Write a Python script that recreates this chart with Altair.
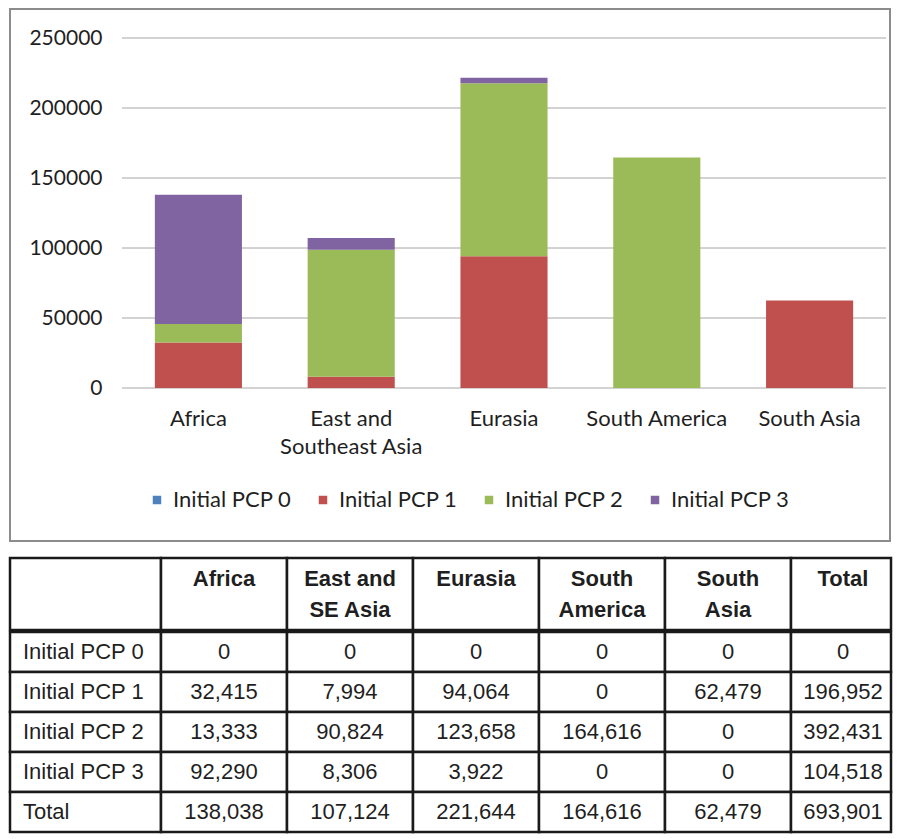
import altair as alt
import pandas as pd

# ---------------- data ----------------
regions = ["Africa", "East and SE Asia", "Eurasia", "South America", "South Asia"]
chart_labels = ["Africa", "East and\nSoutheast Asia", "Eurasia", "South America", "South Asia"]
header_labels = ["Africa", "East and\nSE Asia", "Eurasia", "South\nAmerica", "South\nAsia"]
total_label = "Total"
series = ["Initial PCP 0", "Initial PCP 1", "Initial PCP 2", "Initial PCP 3"]
pcp0 = [0, 0, 0, 0, 0]
pcp1 = [32415, 7994, 94064, 0, 62479]
pcp2 = [13333, 90824, 123658, 164616, 0]
pcp3 = [92290, 8306, 3922, 0, 0]
row_totals = [0, 196952, 392431, 104518]
col_totals = [138038, 107124, 221644, 164616, 62479]
grand_total = 693901
y_ticks = [0, 50000, 100000, 150000, 200000, 250000]
colors = ["#4F81BD", "#C0504D", "#9BBB59", "#8064A2"]

series_values = [pcp0, pcp1, pcp2, pcp3]

FONT = "Lato"
TFONT = "Liberation Sans"
TXT = "#1f1f1f"
LINE = "#1a1a1a"

# frame (view) and plot region inside it
FW, FH = 880, 532
PL, PR, PT, PB = 112, 876, 29, 379

# ---------------- bar chart ----------------
bar_rows = []
for i, (s, vals) in enumerate(zip(series, series_values)):
    for lab, v in zip(chart_labels, vals):
        bar_rows.append({"region": lab, "series": s, "idx": i, "value": v})
bar_df = pd.DataFrame(bar_rows)

x_scale = alt.Scale(domain=chart_labels, range=[PL, PR], paddingInner=0.43, paddingOuter=0.215)
y_scale = alt.Scale(domain=[0, 250000], range=[PB, PT])
y_axis = alt.Axis(values=y_ticks, format="d", ticks=False, domain=False, grid=False,
                  labelPadding=20, offset=-PL, labelFontSize=21, labelFont=FONT,
                  labelColor=TXT)

grid = alt.Chart(pd.DataFrame({"value": y_ticks})).mark_rule(
    color="#a6a6a6", strokeWidth=1
).encode(
    y=alt.Y("value:Q", scale=y_scale, axis=y_axis, title=None),
    x=alt.value(PL), x2=alt.value(PR),
)

bars = alt.Chart(bar_df).mark_bar().encode(
    x=alt.X("region:N", sort=chart_labels, title=None, scale=x_scale,
            axis=alt.Axis(labelExpr="split(datum.label, '\\n')", labelAngle=0,
                          ticks=False, domain=False, grid=False, labelPadding=20,
                          offset=PB - FH, labelFontSize=22, labelFont=FONT,
                          labelColor=TXT, labelLineHeight=28)),
    y=alt.Y("value:Q", stack="zero", title=None, scale=y_scale, axis=y_axis),
    color=alt.Color("series:N", scale=alt.Scale(domain=series, range=colors),
                    legend=alt.Legend(orient="none", legendX=136, legendY=480,
                                      direction="horizontal", title=None,
                                      symbolType="square", symbolSize=72,
                                      symbolStrokeWidth=0, labelFontSize=22,
                                      labelFont=FONT, labelColor=TXT,
                                      columnPadding=20, labelOffset=5)),
    order=alt.Order("idx:Q", sort="ascending"),
)

top = alt.layer(grid, bars).properties(
    width=FW, height=FH,
    view=alt.ViewBackground(stroke="#8c8c8c", strokeWidth=2, fill="white"),
)

# ---------------- table ----------------
row_labels = series + [total_label]
body_rows, total_rows = [], []
for i, s in enumerate(series):
    for h, v in zip(header_labels, series_values[i]):
        body_rows.append({"row": s, "col": h, "value": v})
    total_rows.append({"row": s, "col": total_label, "value": row_totals[i]})
for h, v in zip(header_labels, col_totals):
    body_rows.append({"row": total_label, "col": h, "value": v})
total_rows.append({"row": total_label, "col": total_label, "value": grand_total})
body_df = pd.DataFrame(body_rows)
total_df = pd.DataFrame(total_rows)
hdr_df = pd.DataFrame({"col": header_labels})
hdr_total_df = pd.DataFrame({"col": [total_label]})
rowlab_df = pd.DataFrame({"row": row_labels, "k": ["c"] * len(row_labels)})

band0 = alt.Scale(paddingInner=0, paddingOuter=0)
CELL = dict(fill="white", stroke=LINE, strokeWidth=2.5)
HDR_TXT = dict(font=TFONT, fontSize=22, fontWeight="bold", color=TXT,
               baseline="top", lineBreak="\n", lineHeight=31)
BODY_TXT = dict(font=TFONT, fontSize=22, color=TXT, baseline="middle")
HDR_H, ROW_H = 72, 200
C0_W, REG_W, TOT_W = 151, 630, 100
TOT_DX = 2

corner = alt.Chart(alt.Data(values=[{"k": "c"}])).mark_rect(**CELL).encode(
    x=alt.X("k:N", axis=None, scale=band0)
).properties(width=C0_W, height=HDR_H)

hdr_x = alt.X("col:N", sort=header_labels, axis=None, scale=band0)
hdr = alt.layer(
    alt.Chart(hdr_df).mark_rect(**CELL).encode(x=hdr_x),
    alt.Chart(hdr_df).mark_text(**HDR_TXT).encode(x=hdr_x, y=alt.value(11), text="col:N"),
).properties(width=REG_W, height=HDR_H)

tot_x = alt.X("col:N", axis=None, scale=band0)
hdr_tot = alt.layer(
    alt.Chart(hdr_total_df).mark_rect(**CELL).encode(x=tot_x),
    alt.Chart(hdr_total_df).mark_text(dx=TOT_DX, **HDR_TXT).encode(
        x=tot_x, y=alt.value(11), text="col:N"),
).properties(width=TOT_W, height=HDR_H)

row_y = alt.Y("row:N", sort=row_labels, axis=None, scale=band0)
rowlab = alt.layer(
    alt.Chart(rowlab_df).mark_rect(**CELL).encode(
        x=alt.X("k:N", axis=None, scale=band0), y=row_y),
    alt.Chart(rowlab_df).mark_text(font=TFONT, fontSize=22, color=TXT, align="left",
                                   baseline="middle").encode(
        x=alt.value(13), y=row_y, text="row:N"),
).properties(width=C0_W, height=ROW_H)

body = alt.layer(
    alt.Chart(body_df).mark_rect(**CELL).encode(x=hdr_x, y=row_y),
    alt.Chart(body_df).mark_text(**BODY_TXT).encode(
        x=hdr_x, y=row_y, text=alt.Text("value:Q", format=",d")),
).properties(width=REG_W, height=ROW_H)

body_tot = alt.layer(
    alt.Chart(total_df).mark_rect(**CELL).encode(x=tot_x, y=row_y),
    alt.Chart(total_df).mark_text(dx=TOT_DX, **BODY_TXT).encode(
        x=tot_x, y=row_y, text=alt.Text("value:Q", format=",d")),
).properties(width=TOT_W, height=ROW_H)

table = alt.vconcat(
    alt.hconcat(corner, hdr, hdr_tot, spacing=0, bounds="flush"),
    alt.hconcat(rowlab, body, body_tot, spacing=0, bounds="flush"),
    spacing=-2.5,
)

chart = alt.vconcat(top, table, spacing=14).properties(
    padding=0, background="white"
).configure_view(strokeWidth=0)

chart.save("out.html", embed_options={"renderer": "svg", "actions": False})
